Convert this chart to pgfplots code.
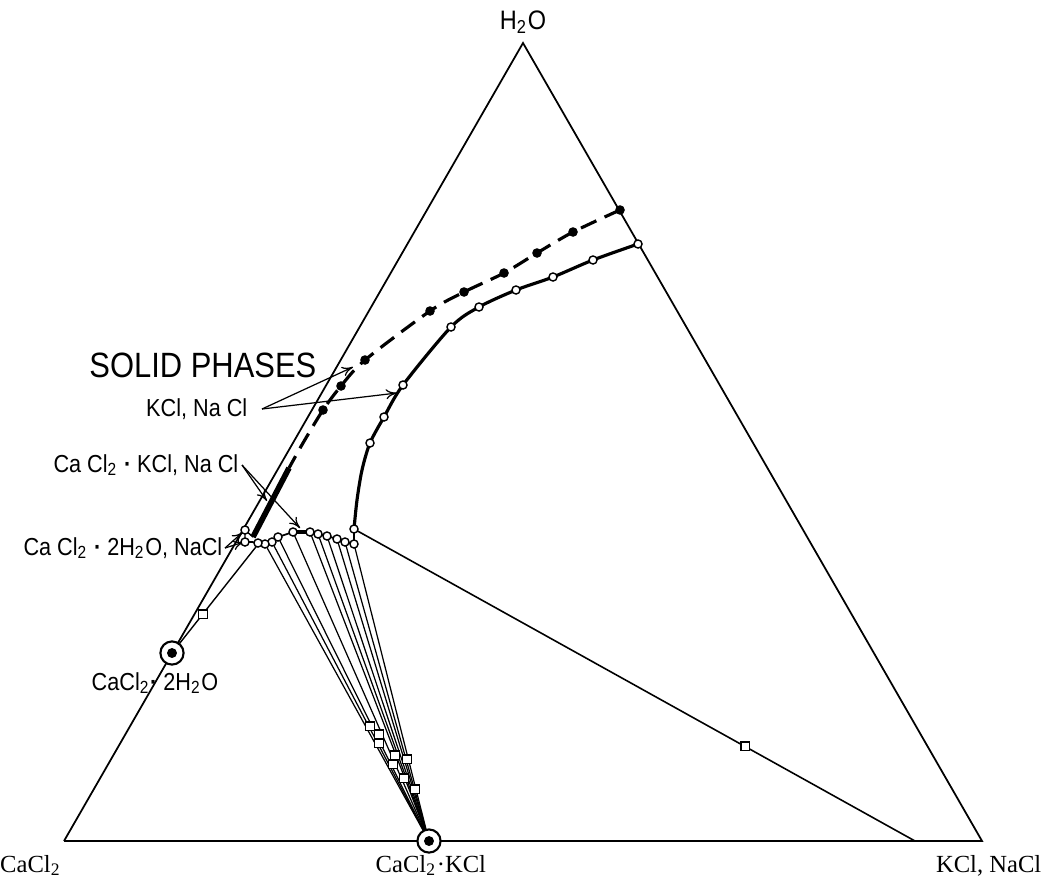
\documentclass[border=0pt]{standalone}
\usepackage{fontspec}
\setmainfont{Liberation Serif}
\newfontfamily\lett[FakeStretch=0.88]{Liberation Sans}
\usepackage{pgfplots}
\pgfplotsset{compat=1.18}
\usetikzlibrary{arrows.meta}
\newcommand{\sub}[1]{\textsubscript{#1}}
\newcommand{\cdt}{\textbf{·}}
\begin{document}
\begin{tikzpicture}
\begin{axis}[
  at={(0,0)}, anchor=south west,
  width=104.3mm, height=87.9mm, scale only axis,
  xmin=0, xmax=1043, ymin=0, ymax=879,
  hide axis, clip=false,
  every axis plot/.append style={forget plot},
]
\addplot[draw=none] coordinates {(0,0) (1043,879)};
% triangle
\addplot[black, line width=0.5pt] coordinates {(64,38) (982,38) (523,836) (64,38)};
\addplot[black, line width=0.8pt] coordinates {(64,38) (982,38)};

% tie lines to CaCl2.KCl
\addplot[black, line width=0.35pt] coordinates {(265,335) (429,38)};
\addplot[black, line width=0.35pt] coordinates {(272,337) (429,38)};
\addplot[black, line width=0.35pt] coordinates {(278,342) (429,38)};
\addplot[black, line width=0.35pt] coordinates {(293,347) (429,38)};
\addplot[black, line width=0.35pt] coordinates {(310,347) (429,38)};
\addplot[black, line width=0.35pt] coordinates {(318,345) (429,38)};
\addplot[black, line width=0.35pt] coordinates {(327,343) (429,38)};
\addplot[black, line width=0.35pt] coordinates {(337,340) (429,38)};
\addplot[black, line width=0.35pt] coordinates {(345,337) (429,38)};
\addplot[black, line width=0.35pt] coordinates {(354,335) (429,38)};

% tie line from CaCl2.2H2O
\addplot[black, line width=0.4pt] coordinates {(172,226) (259,336)};
% long line to the base
\addplot[black, line width=0.45pt] coordinates {(354,350) (915,38)};

% dashed curve (KCl, NaCl solid phases, filled dots)
\addplot[black, line width=0.9pt, dash pattern=on 1.7mm off 0.9mm, smooth, tension=0.5]
  coordinates {(620,669) (573,647) (537,626) (504,606) (464,587) (430,568) (365,519) (341,493) (323,469) (303,436) (289,411)};
% heavy segment
\addplot[black, line width=1.6pt] coordinates {(289,411) (253,342)};

% solid curve (open dots)
\addplot[black, line width=0.9pt, smooth, tension=0.5]
  coordinates {(638,635) (593,619) (553,602) (516,589) (479,572) (451,552) (403,494) (384,462) (370,436) (362,409) (357,379) (354,350)};
\addplot[black, line width=0.45pt] coordinates {(354,350) (354,335)};

% lower row
\addplot[black, line width=0.5pt]
  coordinates {(354,335) (345,337) (337,340) (327,343) (318,345) (310,347) (293,347) (278,342) (272,337) (265,335) (258,336) (252,337) (245,337)};
\addplot[black, line width=1.2pt] coordinates {(293,347) (310,347)};
\addplot[black, line width=0.4pt] coordinates {(245,337) (245,349) (253,342)};

% squares
\addplot[only marks, mark=square*, mark size=1.2pt, mark options={fill=white, draw=black, line width=0.4pt}]
  coordinates {(370,153) (379,145) (379,136) (395,124) (407,120) (393,115) (404,101) (415,90) (203,265) (745,133)};

% filled dots
\addplot[only marks, mark=*, mark size=1.15pt, mark options={fill=black}]
  coordinates {(620,669) (573,647) (537,626) (504,606) (464,587) (430,568) (365,519) (341,493) (323,469)};

% open dots
\addplot[only marks, mark=*, mark size=1.15pt, mark options={fill=white, draw=black, line width=0.4pt}]
  coordinates {(638,635) (593,619) (553,602) (516,589) (479,572) (451,552) (403,494) (384,462) (370,436) (354,350) (354,335)
  (345,337) (337,340) (327,343) (318,345) (310,347) (293,347) (278,342) (272,337) (265,335) (258,336) (245,337) (245,349)};

% compounds (circled dots)
\addplot[only marks, mark=*, mark size=3.3pt, mark options={fill=white, draw=black, line width=0.6pt}]
  coordinates {(429,38) (172,226)};
\addplot[only marks, mark=*, mark size=1.2pt, mark options={fill=black}]
  coordinates {(429,38) (172,226)};

% arrows
\draw[-{To[length=1.1mm,width=1mm]}, line width=0.35pt] (axis cs:262,470) -- (axis cs:353,512);
\draw[-{To[length=1.1mm,width=1mm]}, line width=0.35pt] (axis cs:262,470) -- (axis cs:397,486);
\draw[-{To[length=1.1mm,width=1mm]}, line width=0.35pt] (axis cs:242,414) -- (axis cs:267,378);
\draw[-{To[length=1.1mm,width=1mm]}, line width=0.35pt] (axis cs:242,414) -- (axis cs:300,351);
\draw[-{To[length=1.1mm,width=1mm]}, line width=0.35pt] (axis cs:225,331) -- (axis cs:243,347);
\draw[-{To[length=1.1mm,width=1mm]}, line width=0.35pt] (axis cs:225,331) -- (axis cs:244,337);

% labels
\node[font=\lett\fontsize{7.6}{8}\selectfont] at (axis cs:523,857) {H\sub{2}O};
\node[anchor=east, font=\lett\fontsize{10}{11}\selectfont, inner sep=0pt] at (axis cs:317,514) {SOLID PHASES};
\node[anchor=east, font=\lett\fontsize{7}{8}\selectfont, inner sep=0pt] at (axis cs:248,470) {KCl, Na Cl};
\node[anchor=east, font=\lett\fontsize{7}{8}\selectfont, inner sep=0pt] at (axis cs:239,414) {Ca Cl\sub{2} \cdt{} KCl, Na Cl};
\node[anchor=east, font=\lett\fontsize{7}{8}\selectfont, inner sep=0pt] at (axis cs:223,331) {Ca Cl\sub{2} \cdt{} 2H\sub{2}O, NaCl};
\node[anchor=east, font=\lett\fontsize{7}{8}\selectfont, inner sep=0pt] at (axis cs:219,196) {CaCl\sub{2}\cdt{} 2H\sub{2}O};
\node[anchor=base east, font=\fontsize{7}{8}\selectfont, inner sep=0pt] at (axis cs:62,7) {CaCl\sub{2}};
\node[anchor=base west, font=\fontsize{7}{8}\selectfont, inner sep=0pt] at (axis cs:375,7) {CaCl\sub{2}·KCl};
\node[anchor=base east, font=\fontsize{7}{8}\selectfont, inner sep=0pt] at (axis cs:1042,7) {KCl, NaCl};
\end{axis}
\pgfresetboundingbox
\path (0,0) rectangle (104.3mm,87.9mm);
\end{tikzpicture}
\end{document}
